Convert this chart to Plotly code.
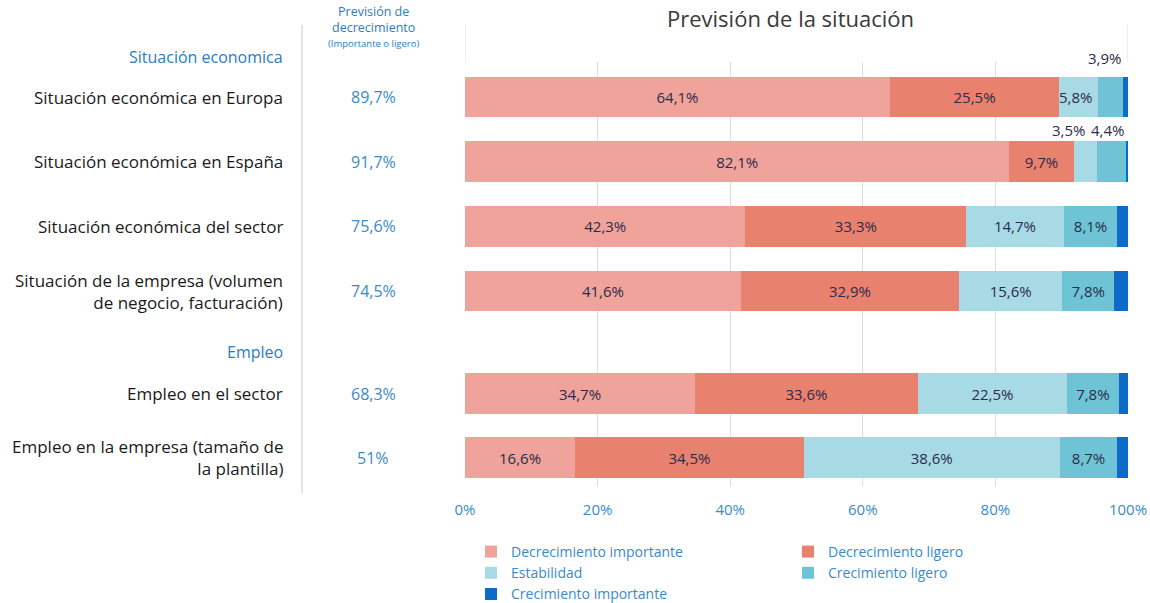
import plotly.graph_objects as go

# ---------------- data ----------------
categorias_eco = [
    "Situación económica en Europa",
    "Situación económica en España",
    "Situación económica del sector",
    "Situación de la empresa (volumen<br>de negocio, facturación)",
]
categorias_emp = [
    "Empleo en el sector",
    "Empleo en la empresa (tamaño de<br>la plantilla)",
]
series = ["Decrecimiento importante", "Decrecimiento ligero", "Estabilidad",
          "Crecimiento ligero", "Crecimiento importante"]
dec_imp = [64.1, 82.1, 42.3, 41.6, 34.7, 16.6]
dec_lig = [25.5, 9.7, 33.3, 32.9, 33.6, 34.5]
estab = [5.8, 3.5, 14.7, 15.6, 22.5, 38.6]
crec_lig = [3.9, 4.4, 8.1, 7.8, 7.8, 8.7]
crec_imp = [0.7, 0.4, 1.6, 2.1, 1.4, 1.6]
prevision = ["89,7%", "91,7%", "75,6%", "74,5%", "68,3%", "51%"]
x_ticks = [0, 20, 40, 60, 80, 100]
x_ticktext = ["0%", "20%", "40%", "60%", "80%", "100%"]

# ---------------- styles ----------------
colores = ["#F0A39A", "#E9816F", "#A8DAE6", "#6EC4D5", "#0E6AC8"]
FONT = "Open Sans"
TXT = "#2c2b4a"
BLUE = "#2b7cc0"
BLUE2 = "#3a8ac8"
GRID = "#dddddd"

valores = [dec_imp, dec_lig, estab, crec_lig, crec_imp]
n_eco = len(categorias_eco)
todas = categorias_eco + categorias_emp


def pct(v):
    return f"{v:.1f}".replace(".", ",") + "%"


def etiqueta(v, serie_idx):
    if serie_idx == 4 or v < 7:
        return ""
    return pct(v)


fig = go.Figure()
for s, (nombre, vals, col) in enumerate(zip(series, valores, colores)):
    for sub, (cats, sl, xa, ya) in enumerate([
        (categorias_eco, slice(0, n_eco), "x", "y"),
        (categorias_emp, slice(n_eco, None), "x2", "y2"),
    ]):
        v = vals[sl]
        fig.add_trace(go.Bar(
            y=cats, x=v, orientation="h", name=nombre,
            marker=dict(color=col, line=dict(width=0)),
            text=[etiqueta(a, s) for a in v],
            textposition="inside", insidetextanchor="middle",
            constraintext="none", textangle=0,
            textfont=dict(family=FONT, size=15, color=TXT),
            xaxis=xa, yaxis=ya, legendgroup=nombre, showlegend=(sub == 0),
            hoverinfo="x+y+name",
        ))

# geometry of plot area
L, R, T, B = 465, 22, 62, 117
H = 603
plot_h = H - T - B
split_px = 342
split = (H - B - split_px) / plot_h


def py(px):
    return (H - B - px) / plot_h


def pxx(px):
    return (px - L) / (1150 - L - R)


annotations = []
# left labels and prevision values
for i, cat in enumerate(todas):
    yref = "y" if i < n_eco else "y2"
    annotations.append(dict(
        x=pxx(285), xref="paper", y=cat, yref=yref, text=cat, showarrow=False,
        xanchor="right", align="right",
        font=dict(family=FONT, size=17, color="#1a1a1a")))
    annotations.append(dict(
        x=pxx(373), xref="paper", y=cat, yref=yref, text=prevision[i], showarrow=False,
        xanchor="center", font=dict(family=FONT, size=16, color=BLUE2)))

# outside labels of small segments
c = lambda i, k: sum(v[i] for v in valores[:k])
annotations += [
    dict(x=c(0, 2), y=categorias_eco[0], xref="x", yref="y", text=pct(estab[0]),
         showarrow=False, xanchor="left", xshift=-2,
         font=dict(family=FONT, size=15, color=TXT)),
    dict(x=c(0, 4), y=categorias_eco[0], xref="x", yref="y", text=pct(crec_lig[0]),
         showarrow=False, xanchor="right", yshift=39,
         font=dict(family=FONT, size=15, color=TXT)),
    dict(x=c(1, 3), y=categorias_eco[1], xref="x", yref="y", text=pct(estab[1]),
         showarrow=False, xanchor="right", xshift=-10, yshift=32,
         font=dict(family=FONT, size=15, color=TXT)),
    dict(x=c(1, 4), y=categorias_eco[1], xref="x", yref="y", text=pct(crec_lig[1]),
         showarrow=False, xanchor="right", yshift=32,
         font=dict(family=FONT, size=15, color=TXT)),
]

# headers
annotations += [
    dict(x=pxx(790), xref="paper", y=py(18), yref="paper", text="Previsión de la situación",
         showarrow=False, xanchor="center", yanchor="middle",
         font=dict(family=FONT, size=22, color="#3a3a3a")),
    dict(x=pxx(373), xref="paper", y=py(19), yref="paper",
         text="Previsión de<br>decrecimiento", showarrow=False,
         xanchor="center", yanchor="middle",
         font=dict(family=FONT, size=12.5, color=BLUE)),
    dict(x=pxx(373), xref="paper", y=py(43), yref="paper",
         text="(Importante o ligero)", showarrow=False,
         xanchor="center", yanchor="middle",
         font=dict(family=FONT, size=9.5, color=BLUE)),
    dict(x=pxx(285), xref="paper", y=py(57), yref="paper", text="Situación economica",
         showarrow=False, xanchor="right", yanchor="middle",
         font=dict(family=FONT, size=16, color=BLUE)),
    dict(x=pxx(285), xref="paper", y=py(352), yref="paper", text="Empleo",
         showarrow=False, xanchor="right", yanchor="middle",
         font=dict(family=FONT, size=16, color=BLUE)),
]

shapes = [
    dict(type="line", xref="paper", yref="paper", x0=pxx(302), x1=pxx(302),
         y0=py(25), y1=py(493), line=dict(color="#d2d2d2", width=1.2)),
    dict(type="line", xref="x", yref="paper", x0=0, x1=0, y0=1, y1=py(24),
         line=dict(color=GRID, width=1), layer="below"),
    dict(type="line", xref="x", yref="paper", x0=100, x1=100, y0=1, y1=py(24),
         line=dict(color=GRID, width=1), layer="below"),
]

# y ranges (reversed categorical)
ppu1, ppu2 = 64.7, 64.0
r1_top = -(97 - T) / ppu1
r1_bot = r1_top + (split_px - T) / ppu1
r2_top = -(393.5 - split_px) / ppu2
r2_bot = r2_top + (H - B - split_px) / ppu2

xaxis_common = dict(range=[0, 100], tickvals=x_ticks, ticktext=x_ticktext,
                    showgrid=True, gridcolor=GRID,
                    gridwidth=1, zeroline=False, showline=False, fixedrange=True)

fig.update_layout(
    width=1150, height=603,
    margin=dict(l=L, r=R, t=T, b=B, autoexpand=False),
    paper_bgcolor="white", plot_bgcolor="white",
    barmode="stack", bargap=0.37,
    font=dict(family=FONT, color=TXT),
    xaxis=dict(**xaxis_common, anchor="y", showticklabels=False),
    xaxis2=dict(**xaxis_common, anchor="y2",
                tickfont=dict(family=FONT, size=15, color=BLUE2),
                ticks="outside", ticklen=10, tickcolor="rgba(0,0,0,0)"),
    yaxis=dict(domain=[split, 1], range=[r1_bot, r1_top], showticklabels=False,
               showgrid=False, zeroline=False, fixedrange=True,
               categoryorder="array", categoryarray=categorias_eco),
    yaxis2=dict(domain=[0, split], range=[r2_bot, r2_top], showticklabels=False,
                showgrid=False, zeroline=False, fixedrange=True,
                categoryorder="array", categoryarray=categorias_emp),
    legend=dict(orientation="h", x=pxx(471), xanchor="left", y=py(536), yanchor="top",
                entrywidth=272, entrywidthmode="pixels", traceorder="normal",
                font=dict(family=FONT, size=14, color=BLUE2),
                itemclick=False, itemdoubleclick=False, bgcolor="rgba(0,0,0,0)"),
    annotations=annotations,
    shapes=shapes,
    showlegend=True,
)

fig.write_html(
    "out.html",
    config={"displayModeBar": False},
    post_script="document.body.style.margin='0';document.body.style.overflow='hidden';",
)
